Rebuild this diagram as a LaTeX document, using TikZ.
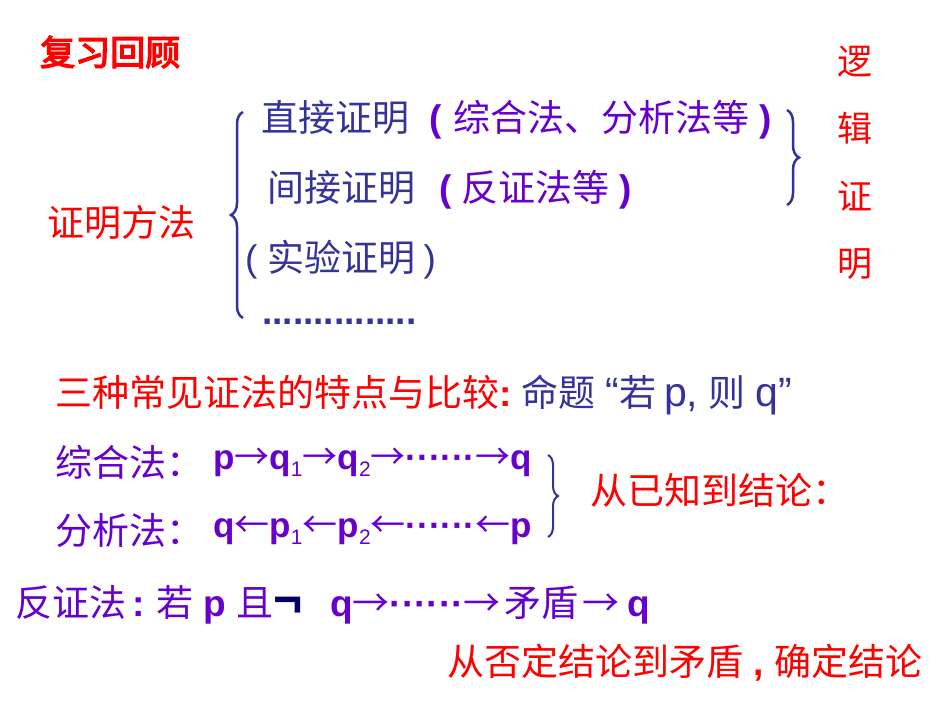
\documentclass[tikz,border=0pt]{standalone}
\usepackage{fontspec}
\setmainfont{Noto Sans CJK SC}
\newfontfamily\lat{Liberation Sans}
\newfontfamily\heavy[FakeBold=4]{Noto Sans CJK SC}
\usetikzlibrary{decorations.pathreplacing}
\definecolor{textred}{HTML}{FF0000}
\definecolor{textblue}{HTML}{333399}
\definecolor{textpurple}{HTML}{6600CC}
\definecolor{negblue}{HTML}{000066}
\newcommand\sub[1]{\raisebox{-.4ex}{\mdseries\fontsize{21}{21}\selectfont #1}}
\newcommand\ra{{\mdseries\rmfamily →}}
\newcommand\la{{\mdseries\rmfamily ←}}
\newcommand\lpar{{\color{textpurple}\lat\bfseries(}}
\newcommand\rpar{{\color{textpurple}\lat\bfseries)}}
\newcommand\middots{{\lat\bfseries ······}}

\begin{document}
\begin{tikzpicture}[x=1pt,y=-1pt,
  txt/.style={anchor=west,inner sep=0pt,font=\fontsize{37}{42}\selectfont},
  bracestyle/.style={draw=textblue,line width=2.5pt,decorate,decoration={brace,amplitude=12pt}}]
\useasboundingbox (0,0) rectangle (950,713);
\node[txt,text=textred,font=\fontsize{35}{40}\heavy] (title) at (40,52) {复习回顾};
\foreach \ch/\yy [count=\i] in {逻/62,辑/128,证/196,明/264}{\node[txt,anchor=center,font=\fontsize{35}{40}\selectfont,text=textred] (logic\i) at (855,\yy) {\ch};}
\node[txt,text=textred] (methods) at (47,222) {证明方法};
\node[txt,text=textblue] (direct) at (261,120) {直接证明\hspace{20pt}\lpar\hspace{12pt}\textcolor{textpurple}{综合法、分析法等}\hspace{10pt}\rpar};
\node[txt,text=textblue] (indirect) at (267,190) {间接证明\hspace{24pt}\lpar\hspace{10pt}\textcolor{textpurple}{反证法等}\hspace{10pt}\rpar};
\node[txt,text=textblue] (experiment) at (245,260) {{\lat(}\hspace{10pt}实验证明\hspace{8pt}{\lat)}};
\node[txt,text=textblue] (etc) at (262,322) {\lat\bfseries ...............};
\coordinate (lb1) at (243,318); \coordinate (lb2) at (243,112);
\draw[bracestyle] (lb1) -- (lb2);
\coordinate (rb1) at (787,110); \coordinate (rb2) at (787,205);
\draw[bracestyle] (rb1) -- (rb2);
\node[txt] (compare) at (55,395) {\color{textred}三种常见证法的特点与比较{\lat\bfseries :}\hspace{10pt}\color{textblue}命题\hspace{10pt}{\lat\fontsize{41}{44}\selectfont“}若\hspace{8pt}{\lat\fontsize{41}{44}\selectfont p,}\hspace{10pt}则\hspace{10pt}{\lat\fontsize{41}{44}\selectfont q”}};
\node[txt,text=textpurple] (synth) at (55,462) {综合法：};
\node[txt,text=textpurple,font=\fontsize{35}{40}\selectfont] (synthchain) at (213,462) {\lat\bfseries p\ra q\sub1\ra q\sub2\ra\middots\ra q};
\node[txt,text=textpurple] (anal) at (55,530) {分析法：};
\node[txt,text=textpurple,font=\fontsize{35}{40}\selectfont] (analchain) at (213,530) {\lat\bfseries q\la p\sub1\la p\sub2\la\middots\la p};
\coordinate (sb1) at (548,455); \coordinate (sb2) at (548,537);
\draw[bracestyle,line width=2pt,decoration={amplitude=10pt}] (sb1) -- (sb2);
\node[txt,text=textred] (forward) at (590,490) {从已知到结论：};
\node[txt,text=textpurple] (contra) at (15,605) {反证法{\lat\bfseries\hspace{6pt}:}\hspace{12pt}若\hspace{10pt}{\lat\bfseries p}\hspace{10pt}且{\color{negblue}\lat\bfseries\fontsize{50}{50}\selectfont ¬}\hspace{28pt}{\lat\bfseries q}\ra\middots\ra\hspace{4pt}矛盾\hspace{4pt}\ra\hspace{8pt}{\lat\bfseries q}};
\node[txt,text=textred] (conclude) at (447,663) {从否定结论到矛盾{\lat\bfseries\ ,\ }确定结论};
\end{tikzpicture}
\end{document}
